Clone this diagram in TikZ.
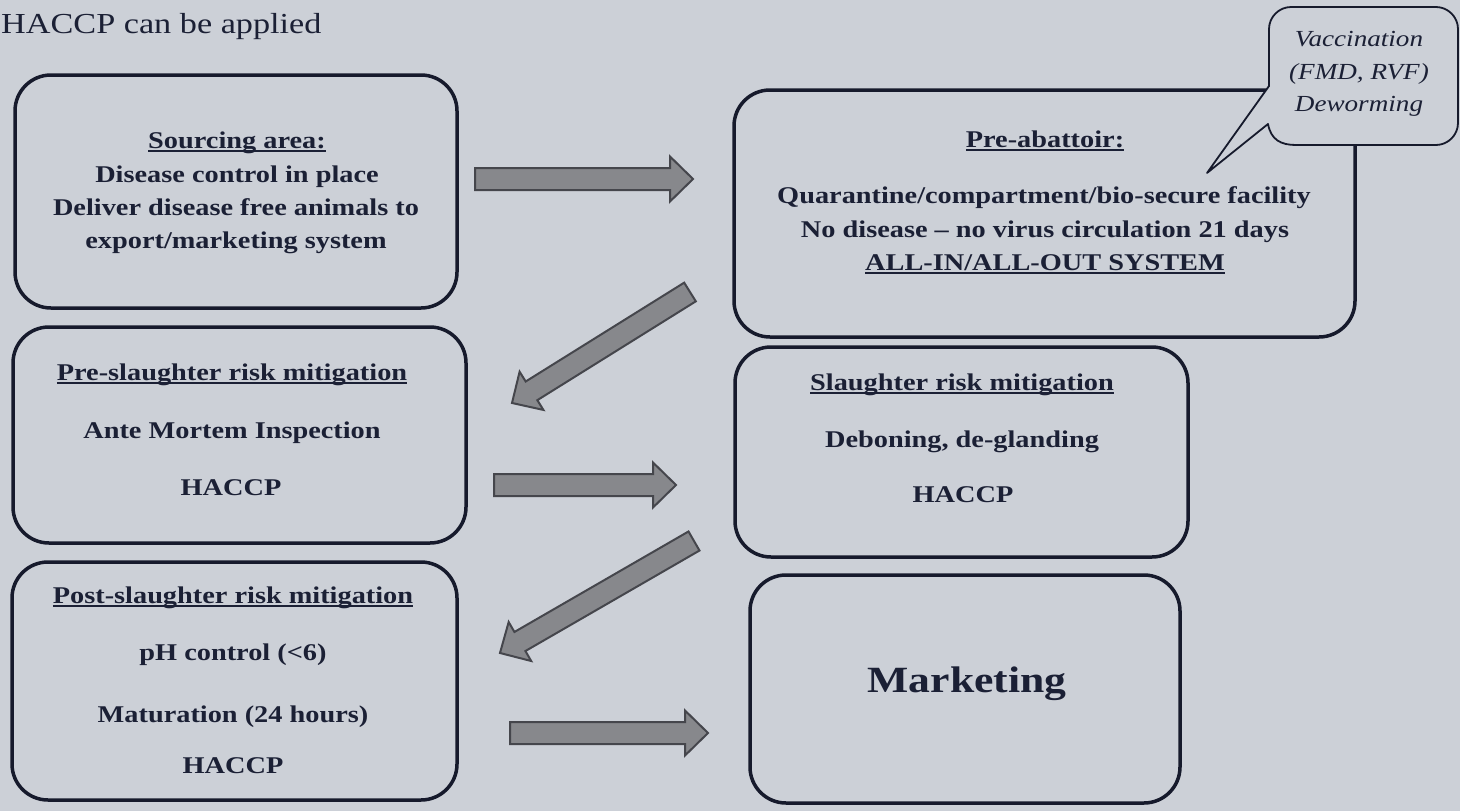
\documentclass[tikz,border=0pt]{standalone}
\usepackage{fontspec}
\setmainfont[FakeStretch=1.18]{Liberation Serif}
\usetikzlibrary{calc,fit}
\definecolor{bg}{HTML}{CCD0D7}
\definecolor{ink}{HTML}{1B2035}
\definecolor{edge}{HTML}{161A2C}
\definecolor{arrfill}{HTML}{87888C}
\definecolor{arredge}{HTML}{45464C}
\newcommand\ulx[1]{\setbox0\hbox{#1}\rlap{\rule[-3.5pt]{\wd0}{1.4pt}}\box0}
\newcommand\blockarrow[2]{%
  \coordinate (bh) at ($(#2)!23pt!(#1)$);
  \filldraw[arrowsty] ($(#1)!11pt!90:(#2)$) -- ($(bh)!11pt!90:(#2)$) -- ($(bh)!22.5pt!90:(#2)$) -- (#2)
    -- ($(bh)!22.5pt!-90:(#2)$) -- ($(bh)!11pt!-90:(#2)$) -- ($(#1)!11pt!-90:(#2)$) -- cycle;}
\tikzset{
  box/.style={draw=edge, line width=3.5pt, rounded corners=36pt, inner sep=0pt, fill=bg},
  txt/.style={anchor=base, text=ink, inner sep=0pt, font={\fontsize{24}{30}\selectfont\bfseries}},
  ctxt/.style={anchor=base, text=ink, inner sep=0pt, font={\fontsize{23}{28}\selectfont\itshape}},
  callout/.style={draw=edge, line width=1.8pt, fill=bg, line join=round},
  arrowsty/.style={fill=arrfill, draw=arredge, line width=2pt, line join=miter},
}
\begin{document}
\begin{tikzpicture}[x=1pt, y=-1pt]
\useasboundingbox (0,0) rectangle (1460,811);
\fill[bg] (0,0) rectangle (1460,811);

% title
\node[anchor=base west, text=ink, inner sep=0pt, font={\fontsize{29}{34}\selectfont}] (title) at (1,34) {HACCP can be applied};

% boxes
\node[box, fit={(15,75) (457,308)}] (b1) {};
\node[box, fit={(734,90) (1355,337)}] (b2) {};
\node[box, fit={(13,327) (466,543)}] (b3) {};
\node[box, fit={(735,347) (1188,557)}] (b4) {};
\node[box, fit={(12,562) (457,800)}] (b5) {};
\node[box, fit={(750,575) (1180,803)}] (b6) {};

% callout
\coordinate (tip) at (1207,173);
\draw[callout] (tip) -- (1268,124) .. controls (1271,140) and (1281,145) .. (1296,145)
  -- (1436,145) .. controls (1448,145) and (1458,135) .. (1458,123)
  -- (1458,29) .. controls (1458,17) and (1448,7) .. (1436,7)
  -- (1291,7) .. controls (1279,7) and (1269,17) .. (1269,29)
  -- (1269,86) -- cycle;
\node[ctxt] (co1) at (1359,46) {Vaccination};
\node[ctxt] (co2) at (1359,79) {(FMD, RVF)};
\node[ctxt] (co3) at (1359,111) {Deworming};

% arrows
\coordinate (a1s) at (475,179); \coordinate (a1e) at (693,179);
\coordinate (a2s) at (690,292); \coordinate (a2e) at (512,403);
\coordinate (a3s) at (494,485); \coordinate (a3e) at (676,485);
\coordinate (a4s) at (694,541); \coordinate (a4e) at (500,653);
\coordinate (a5s) at (510,733); \coordinate (a5e) at (708,733);
\blockarrow{a1s}{a1e}
\blockarrow{a2s}{a2e}
\blockarrow{a3s}{a3e}
\blockarrow{a4s}{a4e}
\blockarrow{a5s}{a5e}

% box 1 text
\node[txt] (t1a) at (237,148) {\ulx{Sourcing area:}};
\node[txt] (t1b) at (237,182) {Disease control in place};
\node[txt] (t1c) at (236,215) {Deliver disease free animals to};
\node[txt] (t1d) at (236,248) {export/marketing system};
% box 2 text
\node[txt] (t2a) at (1045,147) {\ulx{Pre-abattoir:}};
\node[txt] (t2b) at (1044,203) {Quarantine/compartment/bio-secure facility};
\node[txt] (t2c) at (1045,237) {No disease – no virus circulation 21 days};
\node[txt] (t2d) at (1045,270) {\ulx{ALL-IN/ALL-OUT SYSTEM}};
% box 3 text
\node[txt] (t3a) at (232,380) {\ulx{Pre-slaughter risk mitigation}};
\node[txt] (t3b) at (232,438) {Ante Mortem Inspection};
\node[txt] (t3c) at (231,495) {HACCP};
% box 4 text
\node[txt] (t4a) at (962,390) {\ulx{Slaughter risk mitigation}};
\node[txt] (t4b) at (962,447) {Deboning, de-glanding};
\node[txt] (t4c) at (963,502) {HACCP};
% box 5 text
\node[txt] (t5a) at (233,603) {\ulx{Post-slaughter risk mitigation}};
\node[txt] (t5b) at (233,660) {pH control (<6)};
\node[txt] (t5c) at (233,722) {Maturation (24 hours)};
\node[txt] (t5d) at (233,773) {HACCP};
% box 6 text
\node[txt, font={\fontsize{37}{40}\selectfont\bfseries}] (t6) at (967,692) {Marketing};
\end{tikzpicture}
\end{document}
